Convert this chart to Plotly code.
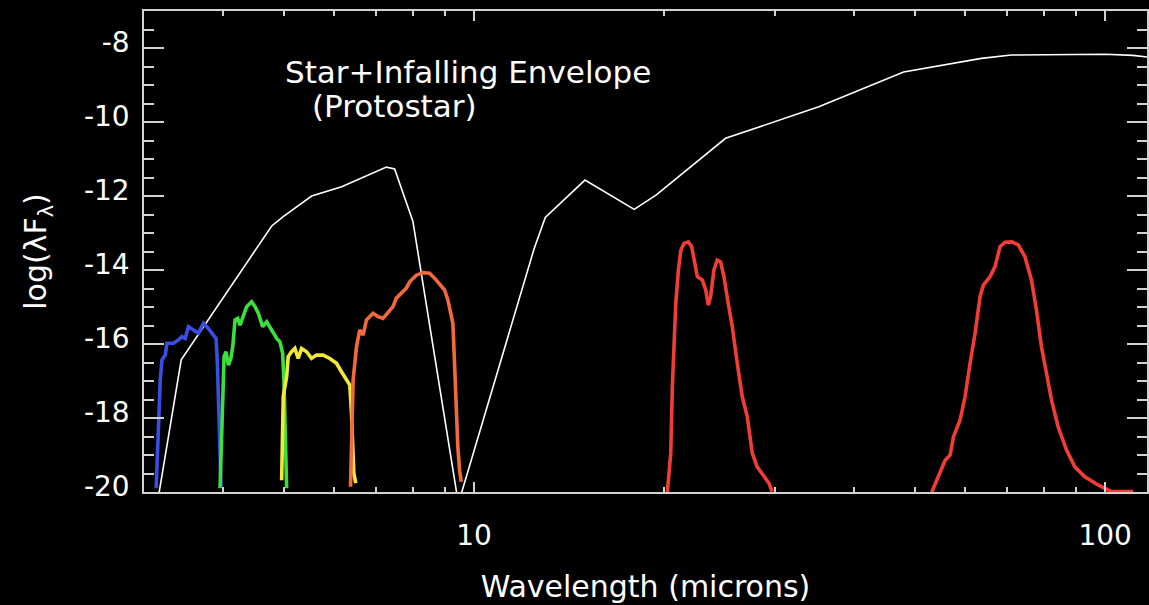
import plotly.graph_objects as go

# ---- data (wavelength in microns, log(lambda F_lambda)) ----
sed_wl = [3.157, 3.436, 4.78, 4.985, 5.53, 6.17, 7.265, 7.486, 8.003, 9.446,
          12.46, 12.97, 14.99, 17.94, 19.45, 25.04, 35.18, 47.94, 63.68, 71.04,
          100.0, 110.7, 120.0]
sed_flux = [-20.2, -16.43, -12.81, -12.56, -12.0, -11.75, -11.22, -11.27, -12.69, -20.31,
            -13.41, -12.58, -11.57, -12.36, -11.97, -10.44, -9.59, -8.65, -8.28, -8.19,
            -8.17, -8.20, -8.27]

blue_wl = [3.136, 3.163, 3.183, 3.203, 3.242, 3.262, 3.341, 3.402, 3.445, 3.486, 3.528,
           3.593, 3.659, 3.726, 3.794, 3.864, 3.902, 3.921, 3.935, 3.949, 3.959, 3.974]
blue_flux = [-19.90, -18.32, -16.97, -16.43, -16.30, -15.98, -15.98, -15.89, -15.80, -15.85, -15.53,
             -15.62, -15.71, -15.44, -15.58, -15.76, -15.85, -16.52, -17.42, -18.59, -19.49, -19.86]

green_wl = [3.959, 3.984, 3.999, 4.018, 4.047, 4.082, 4.118, 4.147, 4.182, 4.223, 4.258,
            4.310, 4.363, 4.443, 4.498, 4.552, 4.625, 4.694, 4.780, 4.868, 4.926, 4.975,
            4.998, 5.017, 5.035, 5.048]
green_flux = [-19.90, -18.32, -16.97, -16.34, -16.21, -16.57, -16.39, -16.07, -15.35, -15.31, -15.49,
              -15.26, -14.99, -14.86, -14.99, -15.17, -15.53, -15.40, -15.62, -15.85, -15.94, -16.25,
              -16.97, -18.32, -19.49, -19.90]

yellow_wl = [4.957, 4.986, 5.048, 5.077, 5.140, 5.202, 5.265, 5.331, 5.429, 5.528, 5.630,
             5.767, 5.909, 6.055, 6.166, 6.280, 6.357, 6.395, 6.419, 6.450, 6.496]
yellow_flux = [-19.68, -17.42, -16.88, -16.34, -16.21, -16.12, -16.39, -16.12, -16.21, -16.39, -16.30,
               -16.30, -16.39, -16.52, -16.75, -16.97, -17.11, -17.87, -18.78, -19.49, -19.76]

orange_wl = [6.373, 6.403, 6.434, 6.514, 6.592, 6.672, 6.755, 6.918, 7.045, 7.175, 7.307,
             7.441, 7.534, 7.673, 7.813, 7.907, 8.102, 8.299, 8.504, 8.660, 8.820, 8.982,
             9.091, 9.258, 9.315, 9.374, 9.427, 9.487, 9.546]
orange_flux = [-19.86, -18.32, -16.97, -16.07, -15.62, -15.76, -15.35, -15.17, -15.26, -15.31, -15.13,
               -14.99, -14.76, -14.63, -14.49, -14.32, -14.14, -14.07, -14.09, -14.22, -14.38, -14.54,
               -14.81, -15.44, -16.52, -17.87, -18.78, -19.41, -19.72]

red24_wl = [20.25, 20.50, 20.62, 20.75, 20.88, 21.08, 21.27, 21.52, 21.86, 22.13, 22.40,
            22.59, 23.00, 23.29, 23.51, 23.71, 24.00, 24.29, 24.59, 24.89, 25.28, 25.66,
            26.13, 26.61, 27.10, 27.60, 28.10, 28.80, 29.33, 29.68]
red24_flux = [-20.0, -18.95, -17.15, -15.80, -14.90, -14.00, -13.46, -13.28, -13.24, -13.37, -13.82,
              -14.18, -14.27, -14.54, -14.95, -14.72, -14.00, -13.73, -13.78, -14.18, -14.90, -15.53,
              -16.52, -17.42, -17.96, -18.95, -19.32, -19.59, -19.76, -19.99]

red70_wl = [53.14, 54.45, 55.79, 56.82, 57.50, 58.92, 60.00, 61.10, 62.23, 63.37, 64.14,
            65.72, 66.93, 68.16, 69.41, 71.10, 72.85, 74.64, 76.44, 77.85, 79.28, 80.75,
            82.23, 84.26, 86.85, 89.55, 92.88, 97.48, 102.3, 107.4, 110.7]
red70_flux = [-20.0, -19.59, -19.14, -19.00, -18.51, -18.05, -17.42, -16.52, -15.71, -14.72, -14.41,
              -14.18, -13.91, -13.37, -13.25, -13.24, -13.32, -13.64, -14.27, -15.08, -16.07, -16.79,
              -17.51, -18.24, -18.86, -19.32, -19.59, -19.81, -19.99, -19.99, -19.99]

y_major = [-8, -10, -12, -14, -16, -18, -20]
y_major_text = ["-8", "-10", "-12", "-14", "-16", "-18", "-20"]
y_minor = [-7.5, -8.5, -9, -9.5, -10.5, -11, -11.5, -12.5, -13, -13.5, -14.5, -15, -15.5,
           -16.5, -17, -17.5, -18.5, -19, -19.5]
x_major = [10, 100]
x_major_text = ["10", "100"]
x_minor = [4, 5, 6, 7, 8, 9, 20, 30, 40, 50, 60, 70, 80, 90]

FONT = "DejaVu Sans"
AXC = "#d2d2d2"

fig = go.Figure()
fig.add_trace(go.Scatter(x=sed_wl, y=sed_flux, mode="lines",
                         line=dict(color="white", width=1.6)))
for wl, fl, col in [(blue_wl, blue_flux, "#3a4ee6"),
                    (green_wl, green_flux, "#3ce03c"),
                    (yellow_wl, yellow_flux, "#f2e83a"),
                    (orange_wl, orange_flux, "#f26a3c"),
                    (red24_wl, red24_flux, "#f23c36"),
                    (red70_wl, red70_flux, "#f23c36")]:
    fig.add_trace(go.Scatter(x=wl, y=fl, mode="lines", line=dict(color=col, width=3.6)))

fig.update_layout(
    width=1149, height=605,
    margin=dict(l=144, r=0, t=11, b=113),
    paper_bgcolor="black", plot_bgcolor="black",
    showlegend=False,
    font=dict(family=FONT, color="white", size=28),
    xaxis=dict(type="log", range=[0.4771, 2.0664],
               showgrid=False, zeroline=False,
               showline=True, linecolor=AXC, linewidth=1.5, mirror="ticks",
               ticks="inside", ticklen=10, tickwidth=1.5, tickcolor=AXC,
               tickmode="array", tickvals=x_major, ticktext=x_major_text,
               tickfont=dict(family=FONT, size=28, color="white"),
               ticklabelstandoff=18,
               minor=dict(tickmode="array", tickvals=x_minor, ticks="inside",
                          ticklen=5, tickwidth=1.5, tickcolor=AXC, showgrid=False),
               title=dict(text="Wavelength (microns)", font=dict(family=FONT, size=30, color="white"),
                          standoff=25)),
    yaxis=dict(range=[-20, -7],
               showgrid=False, zeroline=False,
               showline=True, linecolor=AXC, linewidth=1.5, mirror="ticks",
               ticks="inside", ticklen=20, tickwidth=1.5, tickcolor=AXC,
               tickmode="array", tickvals=y_major, ticktext=y_major_text,
               tickfont=dict(family=FONT, size=28, color="white"),
               ticklabelstandoff=7, ticklabelshift=-6,
               minor=dict(tickmode="array", tickvals=y_minor, ticks="inside",
                          ticklen=10, tickwidth=1.5, tickcolor=AXC, showgrid=False),
               title=dict(text="log(λF<sub>λ</sub>)", font=dict(family=FONT, size=30, color="white"),
                          standoff=28)),
)

fig.add_annotation(text="Star+Infalling Envelope", xref="paper", yref="paper",
                   x=0.1383, y=0.874, xanchor="left", yanchor="middle", showarrow=False,
                   font=dict(family=FONT, size=31, color="white"))
fig.add_annotation(text="(Protostar)", xref="paper", yref="paper",
                   x=0.1652, y=0.8025, xanchor="left", yanchor="middle", showarrow=False,
                   font=dict(family=FONT, size=31, color="white"))

fig.write_html("out.html")
